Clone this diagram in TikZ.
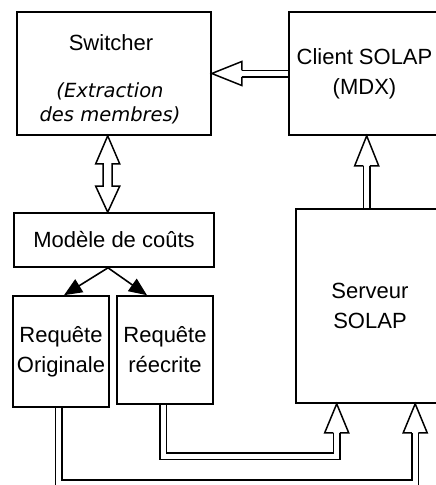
\documentclass[tikz,border=0pt]{standalone}
\usepackage{fontspec}
\setmainfont{Liberation Sans}
\newfontfamily\obliquefont{DejaVu Sans}
\usetikzlibrary{calc,arrows.meta}
\newcommand{\hollowhead}[2]{%
  \draw[blk] ($(#1)!3.25pt!90:(#2)$) -- ($(#1)!12pt!90:(#2)$) -- (#2)
    -- ($(#1)!12pt!-90:(#2)$) -- ($(#1)!3.25pt!-90:(#2)$);}
\begin{document}
\begin{tikzpicture}[x=1pt,y=-1pt,
  box/.style={draw,line width=1.6pt,rectangle,inner sep=0pt,align=center,
    font=\fontsize{22}{30}\selectfont},
  lbl/.style={font=\fontsize{22}{30}\selectfont},
  itlbl/.style={font=\obliquefont\itshape\fontsize{19.5}{24}\selectfont,align=center},
  blk/.style={draw,line width=1.5pt,line join=miter},
  dbl/.style={draw,double,double distance=5pt,line width=1.5pt,line join=miter},
  fillarr/.style={line width=1.6pt,-{Triangle[length=18pt,width=15pt]}}]
\useasboundingbox (0,0) rectangle (436,485);
\clip (0,0) rectangle (436,485);
% boxes
\node[box,minimum width=194pt,minimum height=123pt] (sw) at (114,73.5) {};
\node[lbl,anchor=base] (swt) at (111,50) {Switcher};
\node[itlbl,anchor=base] (swi) at (110,121) {(Extraction\\des membres)};
\node[box,minimum width=151pt,minimum height=123pt] (cl) at (364.5,73.5) {Client SOLAP\\(MDX)};
\node[box,minimum width=200pt,minimum height=54pt] (mc) at (114,240) {Modèle de coûts};
\node[box,minimum width=96pt,minimum height=111pt] (ro) at (61,351.5) {Requête\\Originale};
\node[box,minimum width=96pt,minimum height=108pt] (rr) at (165,350) {Requête\\réecrite};
\node[box,minimum width=148pt,minimum height=194pt] (sv) at (370,306) {Serveur\\SOLAP};
% Client -> Switcher
\coordinate (c1) at (cl.west);
\coordinate (c2) at (cl.west -| sw.east);
\coordinate (c3) at ($(c2)+(30,0)$);
\draw[dbl] (c1) -- (c3);
\hollowhead{c3}{c2}
% Serveur -> Client
\coordinate (s1) at ($(sv.north west)+(71.5,0)$);
\coordinate (s2) at (s1 |- cl.south);
\coordinate (s3) at ($(s2)+(0,30)$);
\draw[dbl] (s1) -- (s3);
\hollowhead{s3}{s2}
% Switcher <-> Modele
\coordinate (d1) at ($(sw.south west)+(91.5,0)$);
\coordinate (d2) at (d1 |- mc.north);
\draw[blk] (d1) -- ($(d1)+(12,28)$) -- ($(d1)+(4.5,28)$) -- ($(d2)+(4.5,-26)$)
  -- ($(d2)+(12,-26)$) -- (d2) -- ($(d2)+(-12,-26)$) -- ($(d2)+(-4.5,-26)$)
  -- ($(d1)+(-4.5,28)$) -- ($(d1)+(-12,28)$) -- cycle;
% Modele -> Requetes
\coordinate (m0) at ($(mc.south)+(-6,0)$);
\draw[fillarr] (m0) -- ($(ro.north)+(3,0)$);
\draw[fillarr] (m0) -- ($(rr.north)+(-18,0)$);
% Requete reecrite -> Serveur
\coordinate (r1) at ($(rr.south)+(-1.7,0)$);
\coordinate (r2) at ($(sv.south west)+(41.5,0)$);
\coordinate (r3) at ($(r2)+(0,29)$);
\draw[dbl] (r1) -- (r1 |- 0,456) -- (r2 |- 0,456) -- (r3);
\hollowhead{r3}{r2}
% Requete originale -> Serveur
\coordinate (o1) at ($(ro.south)+(-2.5,0)$);
\coordinate (o2) at ($(sv.south west)+(120,0)$);
\coordinate (o3) at ($(o2)+(0,29)$);
\draw[dbl] (o1) -- (o1 |- 0,483) -- (o2 |- 0,483) -- (o3);
\hollowhead{o3}{o2}
\end{tikzpicture}
\end{document}
